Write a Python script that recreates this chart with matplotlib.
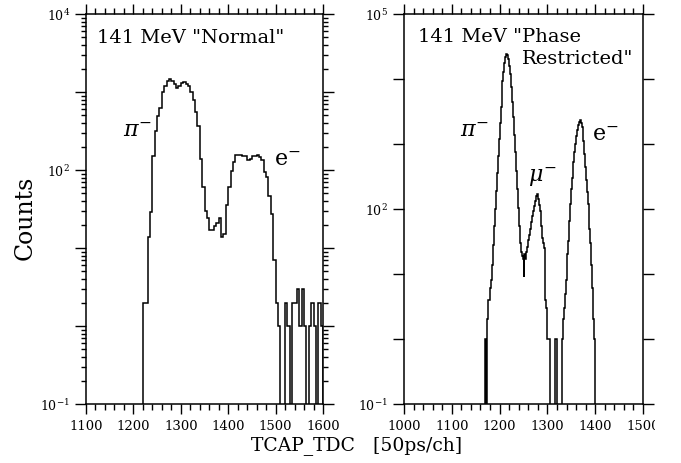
import numpy as np
import matplotlib
matplotlib.use("Agg")
import matplotlib.pyplot as plt
from matplotlib.ticker import MultipleLocator, FixedLocator, FixedFormatter, LogLocator, NullLocator
from matplotlib.transforms import Bbox, TransformedBbox

plt.rcParams["font.family"] = ["DejaVu Serif"]
plt.rcParams["mathtext.fontset"] = "dejavuserif"

# ---- "Normal" spectrum: 5-channel bins starting at channel 1220 ----
normal_start = 1220
normal_width = 5
normal_counts = [
    2, 2, 14, 29, 150, 316, 490, 620, 1000, 1210,            # 1220-1265
    1380, 1450, 1400, 1250, 1120, 1180, 1290, 1330, 1280, 1200,  # 1270-1315
    1000, 780, 550, 370, 140, 60, 30, 24, 17, 17,            # 1320-1365
    19, 21, 24, 14, 15, 36, 60, 98, 126, 155,                # 1370-1415
    158, 155, 152, 150, 136, 138, 149, 151, 155, 147,        # 1420-1465
    136, 94, 81, 47, 27, 7, 2, 1, 0, 0,                      # 1470-1515
    2, 1, 0, 2, 2, 3, 1, 3, 1, 0,                            # 1520-1565
    1, 2, 1, 0, 2, 1,                                        # 1570-1595
]

# ---- "Phase Restricted" spectrum: 2-channel bins starting at channel 1168 ----
phase_start = 1168
phase_width = 2
phase_counts = [
    0, 1, 0, 2, 4, 4, 6, 8, 14, 28,                          # 1168-1186
    55, 100, 190, 360, 650, 1200, 2100, 3700, 6000, 9300,    # 1188-1206
    13000, 17500, 21500, 24000, 23500, 20500, 16000, 12000, 7600, 4400,  # 1208-1226
    2600, 1400, 750, 390, 200, 105, 55, 30, 22, 19,          # 1228-1246
    17, 9, 20, 17, 22, 26, 33, 40, 50, 62,                   # 1248-1266
    78, 92, 112, 135, 158, 170, 145, 115, 92, 55,            # 1268-1286
    36, 30, 25, 6, 4, 3, 1, 1, 1, 0,                         # 1288-1306
    0, 0, 0, 0, 1, 1, 0, 0, 0, 0,                            # 1308-1326
    0, 1, 2, 3, 5, 8, 12, 20, 32, 65,                        # 1328-1346
    120, 200, 300, 520, 750, 1000, 1350, 1650, 1950, 2200,   # 1348-1366
    2300, 2100, 1800, 1100, 700, 450, 280, 180, 120, 85,     # 1368-1386
    50, 30, 14, 6, 2, 1,                                     # 1388-1398
]

normal_title = '141 MeV "Normal"'
phase_title_1 = '141 MeV "Phase'
phase_title_2 = 'Restricted"'

normal_xlim = (1100, 1600)
phase_xlim = (1000, 1500)
normal_ylim = (1e-1, 1e4)
phase_ylim = (1e-1, 1e5)
normal_ylabels = {4: r"$10^{4}$", 2: r"$10^{2}$", -1: r"$10^{-1}$"}
phase_ylabels = {5: r"$10^{5}$", 2: r"$10^{2}$", -1: r"$10^{-1}$"}

W, H = 681, 464
fig = plt.figure(figsize=(W / 100, H / 100), dpi=100)
ax1 = fig.add_axes([86 / W, 59 / H, 237 / W, 390 / H])
ax2 = fig.add_axes([404 / W, 59 / H, 239 / W, 390 / H])

FLOOR = 1e-4  # empty channels fall below the visible range


def draw_spectrum(ax, start, width, counts):
    counts = np.asarray(counts, dtype=float)
    edges = start + width * np.arange(len(counts) + 1)
    vals = np.where(counts > 0, counts, FLOOR)
    ax.stairs(vals, edges, baseline=FLOOR, color="black", lw=1.1)


def style_axis(ax, xlim, ylim, labels, minor_y):
    ax.set_yscale("log")
    ax.set_xlim(*xlim)
    ax.set_ylim(*ylim)
    lo, hi = int(round(np.log10(ylim[0]))), int(round(np.log10(ylim[1])))
    decades = list(range(lo, hi + 1))
    ax.yaxis.set_major_locator(FixedLocator([10.0 ** k for k in decades]))
    ax.yaxis.set_major_formatter(FixedFormatter([labels.get(k, "") for k in decades]))
    if minor_y:
        ax.yaxis.set_minor_locator(LogLocator(base=10, subs=np.arange(2, 10), numticks=30))
    else:
        ax.yaxis.set_minor_locator(NullLocator())
    ax.yaxis.set_minor_formatter(FixedFormatter([]))
    ax.xaxis.set_major_locator(MultipleLocator(100))
    ax.xaxis.set_minor_locator(MultipleLocator(20))
    for s in ax.spines.values():
        s.set_linewidth(1.1)
    ax.tick_params(which="both", direction="out", top=True, right=True,
                   width=1.0, color="black")
    ax.tick_params(axis="x", which="major", length=7, pad=4, labelsize=9.5)
    ax.tick_params(axis="x", which="minor", length=4)
    ax.tick_params(axis="y", which="major", length=8, pad=3.5, labelsize=9)
    ax.tick_params(axis="y", which="minor", length=3.5)


draw_spectrum(ax1, normal_start, normal_width, normal_counts)
draw_spectrum(ax2, phase_start, phase_width, phase_counts)
style_axis(ax1, normal_xlim, normal_ylim, normal_ylabels, True)
style_axis(ax2, phase_xlim, phase_ylim, phase_ylabels, False)

# panel annotations
ax1.text(0.046, 0.928, normal_title, transform=ax1.transAxes, fontsize=14,
         ha="left", va="baseline")
ax1.text(0.156, 0.687, r"$\pi^{-}$", transform=ax1.transAxes, fontsize=16,
         ha="left", va="baseline")
ax1.text(0.793, 0.615, r"$\mathrm{e}^{-}$", transform=ax1.transAxes, fontsize=16,
         ha="left", va="baseline")

ax2.text(0.059, 0.931, phase_title_1, transform=ax2.transAxes, fontsize=14,
         ha="left", va="baseline")
ax2.text(0.494, 0.874, phase_title_2, transform=ax2.transAxes, fontsize=14,
         ha="left", va="baseline")
ax2.text(0.234, 0.687, r"$\pi^{-}$", transform=ax2.transAxes, fontsize=16,
         ha="left", va="baseline")
ax2.text(0.519, 0.572, r"$\mu^{-}$", transform=ax2.transAxes, fontsize=16,
         ha="left", va="baseline")
ax2.text(0.787, 0.679, r"$\mathrm{e}^{-}$", transform=ax2.transAxes, fontsize=16,
         ha="left", va="baseline")

fig.text(25 / W, 1 - 218 / H, "Counts", rotation=90, fontsize=17,
         ha="center", va="center")
fig.text(357 / W, 1 - 446 / H, "TCAP_TDC   [50ps/ch]", fontsize=13.5,
         ha="center", va="center")

# the drawing area ends a little before the right border of the canvas
fig.canvas.draw()
page = TransformedBbox(Bbox([[0, 0], [655 / W, 1]]), fig.transFigure)
for tick in ax2.xaxis.get_major_ticks():
    tick.label1.set_clip_box(page)
    tick.label1.set_clip_on(True)

fig.savefig("out.png", dpi=100, facecolor="white")
